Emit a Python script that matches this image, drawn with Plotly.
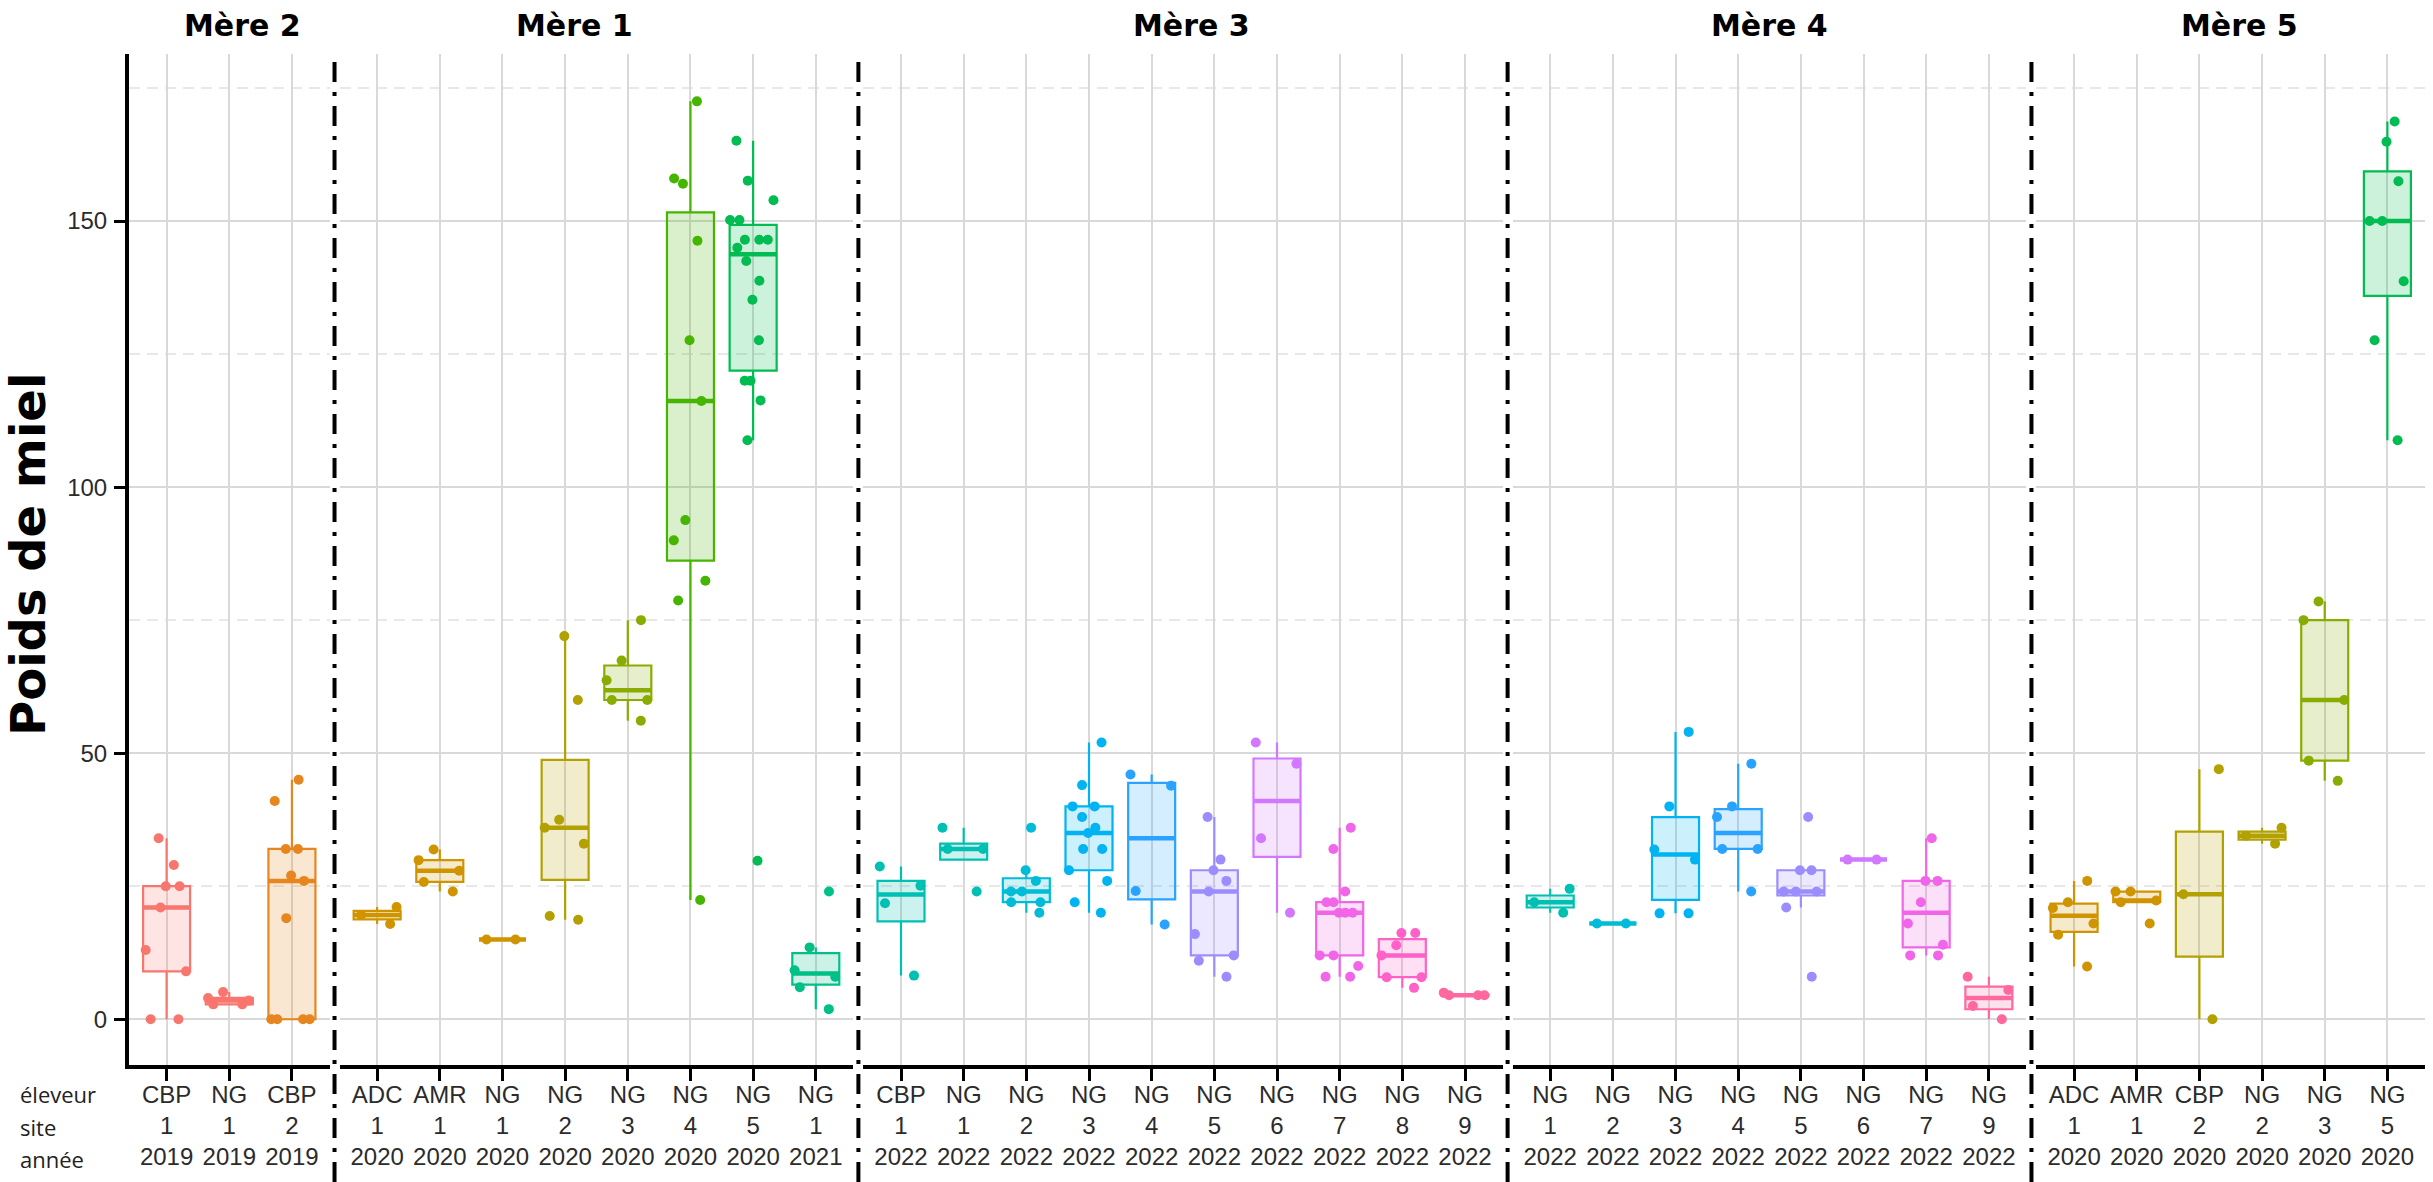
import math
import numpy as np
import plotly.graph_objects as go

# ---------------- data ----------------
MERES = ["Mère 2", "Mère 1", "Mère 3", "Mère 4", "Mère 5"]

M2_ELEVEUR = ["CBP", "NG", "CBP"]
M2_SITE = ["1", "1", "2"]
M2_ANNEE = ["2019", "2019", "2019"]
M2_POIDS = [
    [34, 29, 25, 25, 21, 13, 9, 0, 0],
    [5.1, 4, 3.5, 2.8, 2.8],
    [45, 41, 32, 32, 27, 26, 19, 0, 0, 0, 0],
]

M1_ELEVEUR = ["ADC", "AMR", "NG", "NG", "NG", "NG", "NG", "NG"]
M1_SITE = ["1", "1", "1", "2", "3", "4", "5", "1"]
M1_ANNEE = ["2020", "2020", "2020", "2020", "2020", "2020", "2020", "2021"]
M1_POIDS = [
    [21.1, 19.6, 17.9],
    [31.9, 29.9, 27.9, 25.8, 24],
    [15, 15],
    [72, 60, 37.5, 36, 33, 19.4, 18.7],
    [75, 67.4, 63.7, 60, 60, 56.1],
    [172.5, 158, 157, 146.3, 127.6, 116.2, 93.8, 90, 82.4, 78.7, 22.4],
    [165.1, 157.6, 153.9, 150.2, 150.2, 146.5, 146.5, 146.5, 145, 142.5,
     138.8, 135.2, 127.6, 120, 120, 116.3, 108.8, 29.8],
    [24, 13.5, 9.2, 8, 6, 1.9],
]

M3_ELEVEUR = ["CBP", "NG", "NG", "NG", "NG", "NG", "NG", "NG", "NG", "NG"]
M3_SITE = ["1", "1", "2", "3", "4", "5", "6", "7", "8", "9"]
M3_ANNEE = ["2022"] * 10
M3_POIDS = [
    [28.7, 25.1, 21.8, 8.2],
    [36, 32, 32, 24],
    [36, 28, 26, 24, 24, 22, 22, 20],
    [52, 44, 40, 40, 38, 36, 35, 32, 32, 28, 26, 22, 20],
    [46, 43.9, 24.1, 17.8],
    [38, 30, 28, 26, 24, 16, 12, 11, 8],
    [52, 48, 34, 20],
    [36, 32, 24, 22, 22, 20, 20, 20, 12, 12, 10, 8, 8],
    [16.2, 16.2, 13.9, 12, 7.9, 7.9, 5.9],
    [5, 4.5, 4.5, 4.5],
]

M4_ELEVEUR = ["NG", "NG", "NG", "NG", "NG", "NG", "NG", "NG"]
M4_SITE = ["1", "2", "3", "4", "5", "6", "7", "9"]
M4_ANNEE = ["2022"] * 8
M4_POIDS = [
    [24.5, 22, 20],
    [18, 18],
    [54, 40, 31.9, 30, 19.9, 19.9],
    [48, 40, 38, 32, 32, 24],
    [38, 28, 28, 24, 24, 24, 21, 8],
    [30, 30],
    [34, 26, 26, 22, 18, 14, 12, 12],
    [8, 5.5, 2.5, 0],
]

M5_ELEVEUR = ["ADC", "AMR", "CBP", "NG", "NG", "NG"]
M5_SITE = ["1", "1", "2", "2", "3", "5"]
M5_ANNEE = ["2020"] * 6
M5_POIDS = [
    [26, 22, 20.9, 18, 15.9, 9.9],
    [24, 24, 22.3, 22, 18],
    [47, 23.5, 0],
    [36, 34.5, 33],
    [78.5, 75, 60, 48.6, 44.8],
    [168.7, 164.9, 157.5, 150, 150, 138.7, 127.6, 108.8],
]

Y_TICKS = [0, 50, 100, 150]
ROW_LABELS = ["éleveur", "site", "année"]

PANELS = [
    (M2_ELEVEUR, M2_SITE, M2_ANNEE, M2_POIDS),
    (M1_ELEVEUR, M1_SITE, M1_ANNEE, M1_POIDS),
    (M3_ELEVEUR, M3_SITE, M3_ANNEE, M3_POIDS),
    (M4_ELEVEUR, M4_SITE, M4_ANNEE, M4_POIDS),
    (M5_ELEVEUR, M5_SITE, M5_ANNEE, M5_POIDS),
]


# ---------------- colours (ggplot2 hue palette over site x année) ----------------
def hcl_hex(h, c=100.0, l=65.0):
    hr = math.radians(h)
    u, v = c * math.cos(hr), c * math.sin(hr)
    Xn, Yn, Zn = 95.047, 100.0, 108.883
    Y = Yn * ((l + 16) / 116) ** 3
    den = Xn + 15 * Yn + 3 * Zn
    un, vn = 4 * Xn / den, 9 * Yn / den
    up, vp = u / (13 * l) + un, v / (13 * l) + vn
    X = Y * 9 * up / (4 * vp)
    Z = Y * (12 - 3 * up - 20 * vp) / (4 * vp)
    x, y, z = X / 100, Y / 100, Z / 100
    rgb = [3.2404542 * x - 1.5371385 * y - 0.4985314 * z,
           -0.9692660 * x + 1.8760108 * y + 0.0415560 * z,
           0.0556434 * x - 0.2040259 * y + 1.0572252 * z]
    out = []
    for t in rgb:
        t = min(1.0, max(0.0, t))
        t = 12.92 * t if t <= 0.0031308 else 1.055 * t ** (1 / 2.4) - 0.055
        out.append(int(round(t * 255)))
    return out


color_keys = set()
for el, si, an, _ in PANELS:
    for s, a in zip(si, an):
        color_keys.add((a, int(s)))
ordered = sorted(color_keys)
n_col = len(ordered)
COLORS = {g: hcl_hex(15 + 360.0 * i / n_col) for i, g in enumerate(ordered)}


def rgba(c, a):
    return "rgba(%d,%d,%d,%s)" % (c[0], c[1], c[2], a)


def gg_stats(vals):
    a = np.sort(np.asarray(vals, dtype=float))
    q1, med, q3 = np.percentile(a, [25, 50, 75])
    iqr = q3 - q1
    lo = a[a >= q1 - 1.5 * iqr].min()
    hi = a[a <= q3 + 1.5 * iqr].max()
    return q1, med, q3, lo, hi


# ---------------- geometry ----------------
W_FIG, H_FIG = 2433, 1182
ML, MR, MT, MB = 129, 8, 54, 117
PW = W_FIG - ML - MR
PH = H_FIG - MT - MB
GAP = 10
units = [len(p[0]) + 0.2 for p in PANELS]
U = (PW - GAP * (len(PANELS) - 1)) / sum(units)

domains = []
start = 0.0
for un in units:
    domains.append((start / PW, (start + un * U) / PW))
    start += un * U + GAP

fig = go.Figure()

GRID = "#d9d9d9"
TICK_FONT = dict(family="Liberation Sans, Arial, sans-serif", size=24, color="#2b2b2b")
BOLD_FAMILY = "DejaVu Sans, Comic Sans MS, sans-serif"

for pi, (el, si, an, poids) in enumerate(PANELS):
    xname = "x" if pi == 0 else "x%d" % (pi + 1)
    cats = ["%s %s %s" % (e, s, a) for e, s, a in zip(el, si, an)]
    for e, s, a, vals, cat in zip(el, si, an, poids, cats):
        col = COLORS[(a, int(s))]
        q1, med, q3, lo, hi = gg_stats(vals)
        common = dict(xaxis=xname, yaxis="y", showlegend=False, hoverinfo="skip")
        fig.add_trace(go.Box(
            x=[cat], q1=[q1], median=[med], q3=[q3], lowerfence=[lo], upperfence=[hi],
            boxpoints=False, fillcolor=rgba(col, 0.2), whiskerwidth=0, width=0.75,
            line=dict(color=rgba(col, 1), width=2.2), **common))
        fig.add_trace(go.Box(
            x=[cat], q1=[med], median=[med], q3=[med], lowerfence=[med], upperfence=[med],
            boxpoints=False, fillcolor="rgba(0,0,0,0)", whiskerwidth=0, width=0.75,
            line=dict(color=rgba(col, 1), width=4.5), **common))
        fig.add_trace(go.Box(
            x=[cat] * len(vals), y=vals, boxpoints="all", jitter=1.0, pointpos=0,
            fillcolor="rgba(0,0,0,0)", whiskerwidth=0, width=0.8,
            line=dict(color=rgba(col, 0), width=0),
            marker=dict(color=rgba(col, 1), size=10, line=dict(width=0)), **common))

    axkey = "xaxis" if pi == 0 else "xaxis%d" % (pi + 1)
    fig.layout[axkey] = dict(
        domain=list(domains[pi]), anchor="y", type="category",
        categoryorder="array", categoryarray=cats,
        range=[-0.6, len(cats) - 0.4],
        tickmode="array", tickvals=cats,
        ticktext=["%s<br>%s<br>%s" % (e, s, a) for e, s, a in zip(el, si, an)],
        tickfont=TICK_FONT, ticks="outside", ticklen=12, tickwidth=2.5, tickcolor="black",
        showgrid=True, gridcolor=GRID, gridwidth=2,
        showline=True, linecolor="black", linewidth=4,
        zeroline=False, fixedrange=True, ticklabelstandoff=-7,
    )

fig.update_layout(
    yaxis=dict(
        domain=[0, 1], anchor="x", range=[-8.6, 181.4],
        tickmode="array", tickvals=Y_TICKS, tickfont=TICK_FONT,
        ticks="outside", ticklen=11, tickwidth=2.5, tickcolor="black",
        showgrid=True, gridcolor=GRID, gridwidth=2,
        minor=dict(tick0=25, dtick=50, showgrid=True, gridcolor="#e8e8e8",
                   gridwidth=2, griddash="11px,7px", ticks=""),
        showline=True, linecolor="black", linewidth=4, zeroline=False,
        ticklabelstandoff=2,
    ),
    boxmode="overlay",
    width=W_FIG, height=H_FIG,
    margin=dict(l=ML, r=MR, t=MT, b=MB, pad=0),
    plot_bgcolor="white", paper_bgcolor="white",
    showlegend=False,
)

# separators between panels (dash-dot)
bottom_paper = -MB / PH
for pi in range(len(PANELS) - 1):
    xs = domains[pi][1] + (GAP / 2) / PW
    fig.add_shape(type="line", xref="paper", yref="paper",
                  x0=xs, x1=xs, y0=bottom_paper, y1=1.0,
                  line=dict(color="black", width=4, dash="20px,10px,4px,10px"))

# facet titles
TITLE_X_PX = [242, 574, 1191, 1769, 2239]
TITLE_FONT = dict(family=BOLD_FAMILY, size=30, color="black")
for name, xp in zip(MERES, TITLE_X_PX):
    fig.add_annotation(text="<b>%s</b>" % name, xref="paper", yref="paper",
                       x=(xp - ML) / PW, y=1 + (MT - 25) / PH,
                       xanchor="center", yanchor="middle", showarrow=False,
                       font=TITLE_FONT)

# y title
fig.add_annotation(text="<b>Poids de miel</b>", xref="paper", yref="paper",
                   x=(28 - ML) / PW, y=(MT + PH - 555) / PH, textangle=-90,
                   xanchor="center", yanchor="middle", showarrow=False,
                   font=dict(family=BOLD_FAMILY, size=48, color="black"))

# row labels for the x tick lines
ROW_Y_PX = [1094, 1127, 1159]
for lab, yp in zip(ROW_LABELS, ROW_Y_PX):
    fig.add_annotation(text=lab, xref="paper", yref="paper",
                       x=(18 - ML) / PW, y=(MT + PH - yp) / PH,
                       xanchor="left", yanchor="middle", showarrow=False,
                       font=dict(family="Open Sans, Noto Sans, sans-serif", size=22, color="#222222"))

fig.write_html("out.html", config={"displayModeBar": False},
               post_script="document.body.style.margin='0px';")
